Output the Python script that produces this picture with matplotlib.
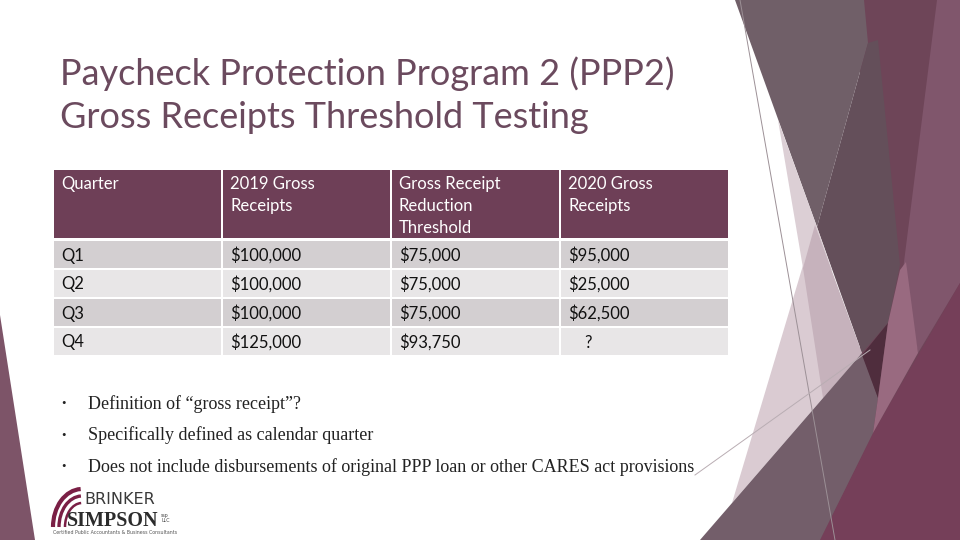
import matplotlib
matplotlib.use('Agg')
import matplotlib.pyplot as plt
from matplotlib.patches import Polygon, Rectangle, Arc

# slide content
title_lines = ['Paycheck Protection Program 2 (PPP2)',
               'Gross Receipts Threshold Testing']
headers = ['Quarter', '2019 Gross\nReceipts',
           'Gross Receipt\nReduction\nThreshold', '2020 Gross\nReceipts']
quarters = ['Q1', 'Q2', 'Q3', 'Q4']
gross_2019 = ['$100,000', '$100,000', '$100,000', '$125,000']
threshold = ['$75,000', '$75,000', '$75,000', '$93,750']
gross_2020 = ['$95,000', '$25,000', '$62,500', '    ?']
bullets = ['Definition of \u201cgross receipt\u201d?',
           'Specifically defined as calendar quarter',
           'Does not include disbursements of original PPP loan or other CARES act provisions']

fig = plt.figure(figsize=(9.6, 5.4), dpi=100)
ax = fig.add_axes([0, 0, 1, 1])
ax.set_xlim(0, 960)
ax.set_ylim(540, 0)
ax.axis('off')

# decorative facets (right side and left corner)
shapes = [
    ([(860, 0), (960, 0), (960, 540), (800, 540), (860, 400)], '#6e4558'),
    ([(937, 0), (960, 0), (960, 283), (918, 353), (903, 270)], '#80566c'),
    ([(820, 540), (873, 433), (960, 283), (960, 540)], '#753f59'),
    ([(735, 0), (864, 0), (868, 43), (817, 227)], '#705f68'),
    ([(868, 43), (878, 40), (900, 265), (888, 323), (862, 353), (817, 227)], '#644f5a'),
    ([(778, 120), (817, 227), (832, 270), (803, 268)], '#dccfd5'),
    ([(804, 262), (862, 353), (732, 503)], '#dacbd2'),
    ([(815, 225), (862, 353), (823, 398), (803, 268)], '#c6b2bc'),
    ([(700, 540), (862, 353), (878, 398), (873, 433), (820, 540)], '#735e6a'),
    ([(862, 355), (888, 323), (878, 398)], '#4f2d3d'),
    ([(888, 323), (900, 270), (906, 262), (918, 353), (873, 433), (878, 398)], '#996a80'),
    ([(0, 315), (35, 540), (0, 540)], '#7d5468'),
]
for pts, col in shapes:
    ax.add_patch(Polygon(pts, closed=True, fc=col, ec='none'))
ax.plot([740, 835], [0, 540], color='#9c9096', lw=0.7)
ax.plot([695, 870], [475, 350], color='#b9adb3', lw=0.7)

# title
for i, line in enumerate(title_lines):
    ax.text(60, 74 + i * 43, line, fontsize=26, family='Lato',
            color='#6b4a5e', va='center', ha='left')

# table
x0, cw, gap = 54, 169, 2
hy0, hy1 = 170, 238
row_h, row_gap = 27, 2
columns = [quarters, gross_2019, threshold, gross_2020]
for j, head in enumerate(headers):
    ax.add_patch(Rectangle((x0 + j * cw, hy0), cw - gap, hy1 - hy0,
                           fc='#6e3f57', ec='none'))
    ax.text(x0 + j * cw + 7, hy0 + 6, head, fontsize=12, family='Lato',
            color='white', va='top', ha='left', linespacing=1.45)
for i in range(len(quarters)):
    y = hy1 + 3 + i * (row_h + row_gap)
    fc = '#d3cfd1' if i % 2 == 0 else '#e8e6e7'
    for j, col in enumerate(columns):
        ax.add_patch(Rectangle((x0 + j * cw, y), cw - gap, row_h,
                               fc=fc, ec='none'))
        ax.text(x0 + j * cw + 7, y + row_h / 2 + 1, col[i], fontsize=12,
                family='Lato', color='#111111', va='center', ha='left')

# bullets
for i, b in enumerate(bullets):
    y = 404 + i * 31.5
    ax.text(61, y, '\u2022', fontsize=9, family='Liberation Serif',
            color='#222222', va='center')
    ax.text(88, y, b, fontsize=13, family='Liberation Serif',
            color='#222222', va='center')

# logo
for rx, ry, lw in [(29, 38, 3.0), (23, 31, 2.4), (17, 24, 1.8)]:
    ax.add_patch(Arc((82, 527), 2 * rx, 2 * ry, theta1=180, theta2=268,
                     color='#7a1f45', lw=lw))
ax.text(84, 504.5, 'BRINKER', fontsize=11.5, family='DejaVu Sans',
        color='#3a3a3a', va='baseline', ha='left')
ax.text(67, 526, 'SIMPSON', fontsize=14.5, family='Liberation Serif',
        weight='bold', color='#2b2b2b', va='baseline', ha='left')
ax.text(161, 518, 'ssp\nLLC', fontsize=3.4, color='#444444', va='center',
        linespacing=1.0)
ax.text(53, 533, 'Certified Public Accountants & Business Consultants',
        fontsize=3.4, color='#555555', va='center')

fig.savefig('out.png', dpi=100)
